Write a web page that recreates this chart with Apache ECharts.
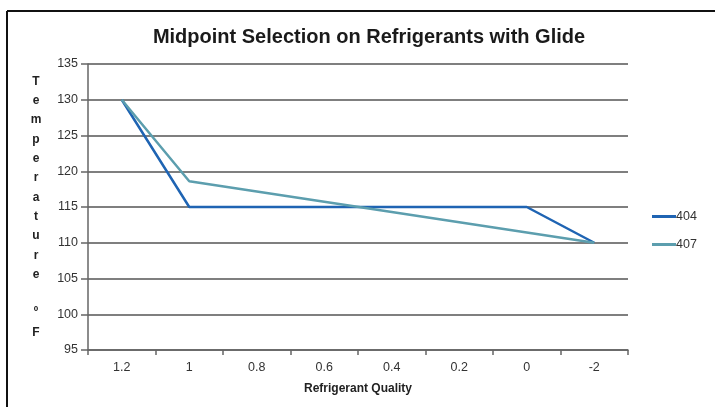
<!DOCTYPE html>
<html><head><meta charset="utf-8">
<script src="https://cdn.jsdelivr.net/npm/echarts@6/dist/echarts.min.js"></script>
<style>html,body{margin:0;padding:0;background:#fff}#c{width:715px;height:407px}</style>
</head><body><div id="c"></div>
<script>
const categories = ['1.2','1','0.8','0.6','0.4','0.2','0','-2'];
const s404 = [130,115,115,115,115,115,115,110];
const s407 = [130,118.6,null,null,null,null,null,110];
const yTitle = ['T','e','m','p','e','r','a','t','u','r','e',' ','º','F'];

const chart = echarts.init(document.getElementById('c'));
const font = 'Liberation Sans, Arial, sans-serif';
chart.setOption({
  animation:false,
  backgroundColor:'#fff',
  title:{text:'Midpoint Selection on Refrigerants with Glide',left:364,top:22,textAlign:'center',
    textStyle:{fontFamily:font,fontSize:20,fontWeight:'bold',color:'#1a1a1a'}},
  grid:{left:88,right:87,top:64,bottom:57},
  legend:{orient:'vertical',left:647,top:205,itemGap:15,itemWidth:24,itemHeight:3,
    icon:'rect',textStyle:{fontFamily:font,fontSize:12.5,color:'#333',padding:[0,0,0,-5]}},
  xAxis:{type:'category',data:categories,boundaryGap:true,
    name:'Refrigerant Quality',nameLocation:'middle',nameGap:33,
    nameTextStyle:{fontFamily:font,fontSize:12,fontWeight:'bold',color:'#222'},
    axisLine:{lineStyle:{color:'#666',width:1.5}},
    axisTick:{show:true,length:5,lineStyle:{color:'#666',width:1.5}},
    axisLabel:{fontFamily:font,fontSize:12.5,color:'#333',margin:11}},
  yAxis:{type:'value',min:95,max:135,interval:5,
    name:yTitle.join('\n'),nameLocation:'middle',nameRotate:0,nameGap:52,
    nameTextStyle:{fontFamily:font,fontSize:12,fontWeight:'bold',color:'#222',lineHeight:19.3,
      align:'center',padding:[4,0,0,0]},
    axisLine:{show:true,lineStyle:{color:'#666',width:1.5}},
    axisTick:{show:true,length:7,inside:false,lineStyle:{color:'#666',width:1.5}},
    axisLabel:{fontFamily:font,fontSize:12.5,color:'#333',margin:10},
    splitLine:{lineStyle:{color:'#555',width:1.5}}},
  series:[
    {name:'404',type:'line',data:s404,symbol:'none',lineStyle:{color:'#1f64b3',width:2.5},itemStyle:{color:'#1f64b3'}},
    {name:'407',type:'line',data:s407,connectNulls:true,symbol:'none',lineStyle:{color:'#5c9eae',width:2.5},itemStyle:{color:'#5c9eae'}}
  ],
  graphic:[
    {type:'line',shape:{x1:7,y1:11,x2:715,y2:11},style:{stroke:'#111',lineWidth:2}},
    {type:'line',shape:{x1:7,y1:11,x2:7,y2:407},style:{stroke:'#111',lineWidth:2}}
  ]
});
</script></body></html>
